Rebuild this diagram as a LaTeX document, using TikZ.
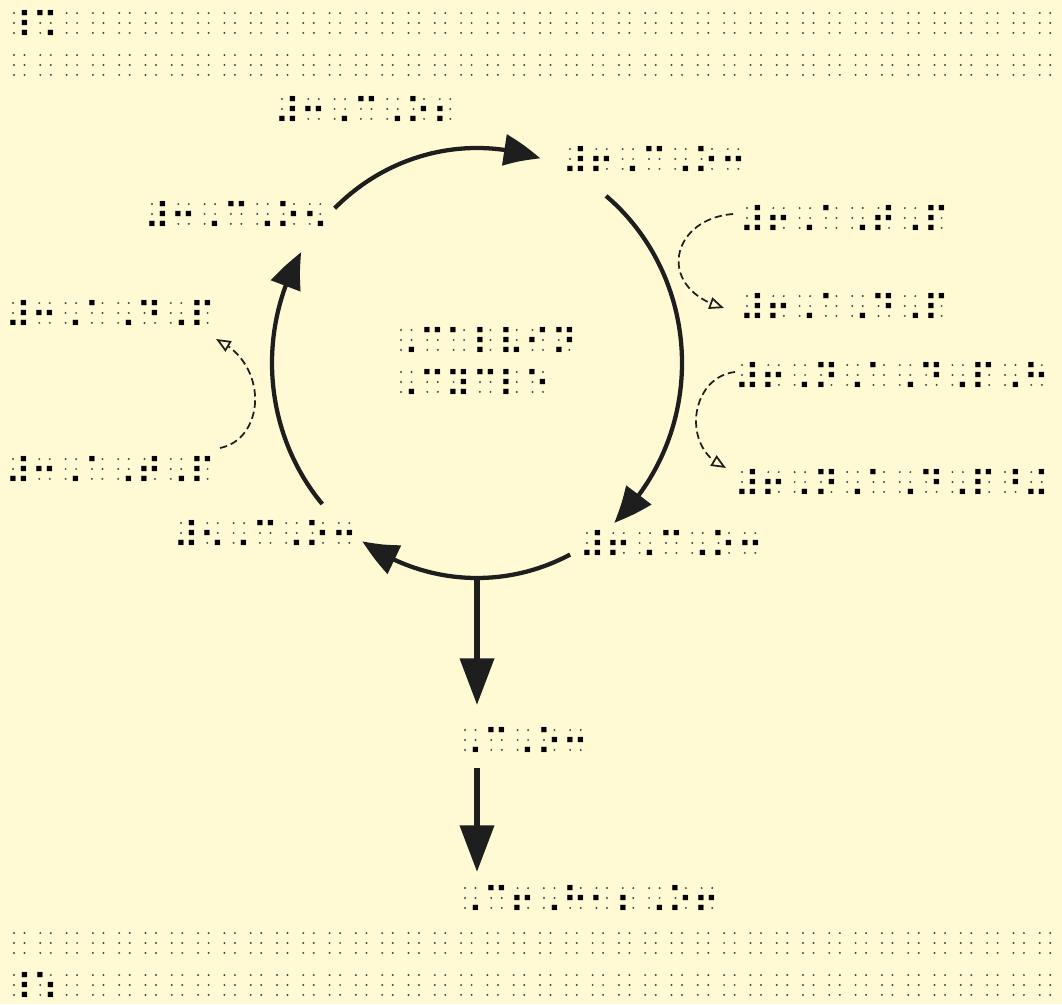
\documentclass[tikz,border=0pt]{standalone}
\usepackage{fontspec}
\newfontfamily\brf{DejaVu Sans}
\usetikzlibrary{arrows.meta,bending,calc}
\definecolor{bg}{RGB}{255,250,212}
\definecolor{ink}{RGB}{30,30,30}
\newdimen\brsz
\newdimen\brA \newdimen\brS \newdimen\brXa \newdimen\brXb
\newdimen\brYa \newdimen\brYb \newdimen\brYc
\newcommand\brsize{\brf\fontsize{\brszpt}{32pt}\selectfont}
\newcommand\brtext[5]{%
  \coordinate (#1o) at ($(#2,{1004-#3})-(\bXa,\bYb)$);
  \foreach \k in {1,...,#4}{%
    \foreach \cx in {\bXa,\bXb}{%
      \foreach \cy in {\bYa,\bYb,\bYc}{%
        \fill[shadowdot] ($(#1o)+({(\k-1)*\bA+\cx},\cy)$) circle[radius=1.1];}}}
  \node[br] (#1) at (#1o) {#5};
}
\begin{document}%
{\brf\fontsize{10}{12}\selectfont
 \setbox0=\hbox{⠀}%
 \global\brsz=\numexpr\dimexpr19.725pt\relax*\dimexpr10pt\relax/\wd0\relax sp%
 \xdef\brszpt{\the\brsz}%
}%
{\brsize
 \setbox0=\hbox{⠀}\global\brA=\wd0
 \global\brS=\dimexpr\brA-\XeTeXglyphbounds1 \XeTeXcharglyph"2801 -\XeTeXglyphbounds3 \XeTeXcharglyph"2801 \relax
 \global\brXa=\dimexpr\XeTeXglyphbounds1 \XeTeXcharglyph"2801 +\brS/2\relax
 \global\brXb=\dimexpr\XeTeXglyphbounds1 \XeTeXcharglyph"2808 +\brS/2\relax
 \global\brYa=\dimexpr\XeTeXglyphbounds2 \XeTeXcharglyph"2801 -\brS/2\relax
 \global\brYb=\dimexpr\XeTeXglyphbounds2 \XeTeXcharglyph"2802 -\brS/2\relax
 \global\brYc=\dimexpr\XeTeXglyphbounds2 \XeTeXcharglyph"2804 -\brS/2\relax
 \xdef\bA{\the\brA}\xdef\bXa{\the\brXa}\xdef\bXb{\the\brXb}%
 \xdef\bYa{\the\brYa}\xdef\bYb{\the\brYb}\xdef\bYc{\the\brYc}%
}%
\begin{tikzpicture}[x=0.75pt,y=0.75pt,
  br/.style={font=\brsize, anchor=base west, inner sep=0pt, text=black},
  shadowdot/.style={fill=black!72},
  cyc/.style={draw=ink, line width=3.2pt, -{Triangle[length=28pt,width=23pt,bend]}},
  down/.style={draw=ink, line width=4.5pt, -{Triangle[length=35pt,width=25pt]}},
  dsh/.style={draw=ink, line width=1.3pt, dash pattern=on 5.5pt off 3pt, -{Triangle[open,length=11pt,width=9pt]}}]
\fill[bg] (0,0) rectangle (1062,1004);
\useasboundingbox (0,0) rectangle (1062,1004);
% texts
\brtext{t1}{14}{23}{40}{⠸⠩⠀⠀⠀⠀⠀⠀⠀⠀⠀⠀⠀⠀⠀⠀⠀⠀⠀⠀⠀⠀⠀⠀⠀⠀⠀⠀⠀⠀⠀⠀⠀⠀⠀⠀⠀⠀⠀⠀}
\brtext{t2}{14}{65}{40}{⠀⠀⠀⠀⠀⠀⠀⠀⠀⠀⠀⠀⠀⠀⠀⠀⠀⠀⠀⠀⠀⠀⠀⠀⠀⠀⠀⠀⠀⠀⠀⠀⠀⠀⠀⠀⠀⠀⠀⠀}
\brtext{b1}{14}{943}{40}{⠀⠀⠀⠀⠀⠀⠀⠀⠀⠀⠀⠀⠀⠀⠀⠀⠀⠀⠀⠀⠀⠀⠀⠀⠀⠀⠀⠀⠀⠀⠀⠀⠀⠀⠀⠀⠀⠀⠀⠀}
\brtext{b2}{14}{985}{40}{⠸⠱⠀⠀⠀⠀⠀⠀⠀⠀⠀⠀⠀⠀⠀⠀⠀⠀⠀⠀⠀⠀⠀⠀⠀⠀⠀⠀⠀⠀⠀⠀⠀⠀⠀⠀⠀⠀⠀⠀}
\brtext{A}{282}{109}{7}{⠼⠒⠠⠉⠠⠕⠆}
\brtext{B}{570}{159}{7}{⠼⠖⠠⠉⠠⠕⠒}
\brtext{C}{152}{214}{7}{⠼⠒⠠⠉⠠⠕⠢}
\brtext{D}{747}{218}{8}{⠼⠖⠠⠁⠠⠞⠠⠏}
\brtext{E}{747}{306}{8}{⠼⠖⠠⠁⠠⠙⠠⠏}
\brtext{F}{13}{313}{8}{⠼⠒⠠⠁⠠⠙⠠⠏}
\brtext{G}{13}{469}{8}{⠼⠒⠠⠁⠠⠞⠠⠏}
\brtext{H1}{401}{340}{7}{⠠⠉⠁⠇⠧⠊⠝}
\brtext{H2}{401}{382}{6}{⠠⠉⠽⠉⠇⠑}
\brtext{I}{742}{375}{12}{⠼⠖⠠⠝⠠⠁⠠⠙⠠⠏⠠⠓}
\brtext{J}{742}{482}{12}{⠼⠖⠠⠝⠠⠁⠠⠙⠠⠏⠘⠬}
\brtext{K}{181}{533}{7}{⠼⠢⠠⠉⠠⠕⠒}
\brtext{L}{587}{543}{7}{⠼⠖⠠⠉⠠⠕⠒}
\brtext{M}{465}{740}{5}{⠠⠉⠠⠕⠒}
\brtext{N}{465}{898}{10}{⠠⠉⠖⠠⠓⠂⠆⠠⠕⠖}
% cycle
\coordinate (O) at (477,641);
\coordinate (a1) at ($(O)+(134:205 and 215)$);
\coordinate (a2) at ($(O)+(51:205 and 215)$);
\coordinate (a3) at ($(O)+(-63:205 and 215)$);
\coordinate (a4) at ($(O)+(-139:205 and 215)$);
\draw[cyc] (a1) arc[start angle=134, end angle=72, x radius=205, y radius=215];
\draw[cyc] (a2) arc[start angle=51, end angle=-48, x radius=205, y radius=215];
\draw[cyc] (a3) arc[start angle=-63, end angle=-124, x radius=205, y radius=215];
\draw[cyc] (a4) arc[start angle=-139, end angle=-211, x radius=205, y radius=215];
% downward arrows
\coordinate (bot) at ($(O)+(-90:205 and 215)$);
\coordinate (d1) at (477,299);
\coordinate (d2s) at (477,236);
\coordinate (d2) at (477,132);
\draw[down] (bot) -- (d1);
\draw[down] (d2s) -- (d2);
% dashed side arrows
\coordinate (p1s) at (733,790); \coordinate (p1e) at (724,696);
\coordinate (p2s) at (735,632); \coordinate (p2e) at (726,536);
\coordinate (p3s) at (220,556); \coordinate (p3e) at (216,665);
\draw[dsh] (p1s) .. controls (670,785) and (655,715) .. (p1e);
\draw[dsh] (p2s) .. controls (690,627) and (680,555) .. (p2e);
\draw[dsh] (p3s) .. controls (265,565) and (270,640) .. (p3e);
\end{tikzpicture}%
\end{document}
